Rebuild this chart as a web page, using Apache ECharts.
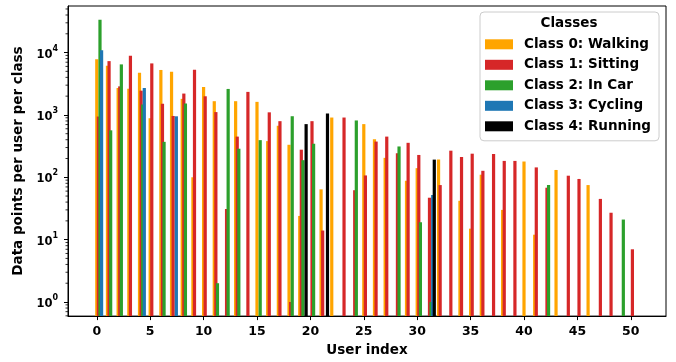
<!DOCTYPE html>
<html>
<head>
<meta charset="utf-8">
<script src="https://cdn.jsdelivr.net/npm/echarts@6/dist/echarts.min.js"></script>
<style>
  html, body { margin: 0; padding: 0; background: #fff; }
  #chart { width: 676px; height: 362px; }
</style>
</head>
<body>
<div id="chart"></div>
<script>
// User indices on the x axis
const users = [
  0, 1, 2, 3, 4, 5, 6, 7, 8, 9,
  10, 11, 12, 13, 14, 15, 16, 17, 18, 19,
  20, 21, 22, 23, 24, 25, 26, 27, 28, 29,
  30, 31, 32, 33, 34, 35, 36, 37, 38, 39,
  40, 41, 42, 43, 44, 45, 46, 47, 48, 49,
  50
];

// Data points per user for each activity class (null = no data)
const walking = [
  7840, 6150, 2700, 2630, 4760, 885, 5260, 4940, 1810, 100,
  2800, 1660, null, 1660, null, 1620, 380, 670, 332, 24,
  null, 64, 908, null, null, 712, 408, 205, null, 88,
  140, null, 192, null, 42, 15, 110, null, 30, null,
  179, 12, null, 131, null, null, 75, null, null, null,
  null
];
const sitting = [
  942, 7290, 2870, 8850, 2450, 6700, 1510, 962, 2200, 5320,
  1990, 1110, 31, 449, 2340, null, 1100, 794, 1, 277,
  794, 14, null, 908, 62, 107, 374, 449, 242, 357,
  228, 47, 75, 267, 212, 239, 127, 237, 183, 183,
  null, 144, 68, null, 106, 94, null, 45, 27, null,
  7
];
const inCar = [
  33600, 566, 6460, null, 1470, null, 370, null, 1530, null,
  null, 2, 2610, 287, null, 394, null, null, 953, 188,
  344, null, null, null, 815, null, null, null, 312, null,
  19, 1, null, null, null, null, null, null, null, null,
  null, null, 75, null, null, null, null, null, null, 21,
  null
];
const cycling = [
  10870, null, null, null, 2700, null, null, 950, null, null,
  null, null, null, null, null, null, null, null, null, null,
  null, null, null, null, null, null, null, null, null, null,
  null, 52, null, null, null, null, null, null, null, null,
  null, null, null, null, null, null, null, null, null, null,
  null
];
const running = [
  null, null, null, null, null, null, null, null, null, null,
  null, null, null, null, null, null, null, null, null, 712,
  null, 1050, null, null, null, null, null, null, null, null,
  null, 192, null, null, null, null, null, null, null, null,
  null, null, null, null, null, null, null, null, null, null,
  null
];

const classNames = [
  'Class 0: Walking',
  'Class 1: Sitting',
  'Class 2: In Car',
  'Class 3: Cycling',
  'Class 4: Running'
];
const classCounts = [walking, sitting, inCar, cycling, running];
const classColors = ['#ffa500', '#d62728', '#2ca02c', '#1f77b4', '#000000'];

// Axis ticks
const xTicks = [0, 5, 10, 15, 20, 25, 30, 35, 40, 45, 50];
const yMinorTicks = [
  0.6, 0.7, 0.8, 0.9,
  2, 3, 4, 5, 6, 7, 8, 9,
  20, 30, 40, 50, 60, 70, 80, 90,
  200, 300, 400, 500, 600, 700, 800, 900,
  2000, 3000, 4000, 5000, 6000, 7000, 8000, 9000,
  20000, 30000, 40000, 50000
];

const X_MIN = -2.695, X_MAX = 53.295;
const Y_MIN = 0.594, Y_MAX = 55800;
const BAR_WIDTH = 0.3;   // in user-index units
const CLASS_STEP = 0.15; // shift of each class bar from the user index

const FONT = 'DejaVu Sans';

// Bars grow from the bottom of the plot (log axis has no zero)
function renderBar(params, api) {
  const x = api.value(0);
  const v = api.value(1);
  const topLeft = api.coord([x - BAR_WIDTH / 2, v]);
  const topRight = api.coord([x + BAR_WIDTH / 2, v]);
  const cs = params.coordSys;
  const base = cs.y + cs.height;
  return {
    type: 'rect',
    shape: { x: topLeft[0], y: topLeft[1], width: topRight[0] - topLeft[0], height: base - topLeft[1] },
    style: { fill: api.visual('color') }
  };
}

// Short outward ticks for the log minor divisions
function renderMinorTick(params, api) {
  const p = api.coord([X_MIN, api.value(1)]);
  const cs = params.coordSys;
  return {
    type: 'line',
    shape: { x1: cs.x - 2.5, y1: p[1], x2: cs.x, y2: p[1] },
    style: { stroke: '#000', lineWidth: 0.8 }
  };
}

const barSeries = classNames.map((name, k) => ({
  type: 'custom',
  name: name,
  itemStyle: { color: classColors[k] },
  renderItem: renderBar,
  encode: { x: 0, y: 1 },
  clip: true,
  z: 2 + k,
  data: users
    .map((u, i) => (classCounts[k][i] == null ? null : [u + k * CLASS_STEP, classCounts[k][i]]))
    .filter(d => d !== null)
}));

const minorTickSeries = {
  type: 'custom',
  name: 'minor-ticks',
  silent: true,
  clip: false,
  renderItem: renderMinorTick,
  encode: { x: 0, y: 1 },
  data: yMinorTicks.map(v => [X_MIN, v])
};

const chart = echarts.init(document.getElementById('chart'), null, { renderer: 'canvas' });

chart.setOption({
  animation: false,
  backgroundColor: '#fff',
  textStyle: { fontFamily: FONT },
  grid: {
    left: 68, right: 10, top: 6, bottom: 41,
    show: true, borderColor: '#000', borderWidth: 1, backgroundColor: 'transparent'
  },
  title: {
    text: 'Classes',
    left: 569, top: 16.5, padding: 0,
    textAlign: 'center',
    textStyle: { fontFamily: FONT, fontSize: 13.5, fontWeight: 'bold', color: '#000' }
  },
  legend: {
    data: classNames,
    orient: 'vertical',
    left: 480, top: 12,
    padding: [25.3, 8, 7.5, 5],
    itemWidth: 28, itemHeight: 10, itemGap: 6.5,
    icon: 'rect',
    backgroundColor: 'rgba(255,255,255,0.85)',
    borderColor: '#cccccc', borderWidth: 1, borderRadius: 4,
    textStyle: { fontFamily: FONT, fontSize: 13.5, fontWeight: 'bold', color: '#000', padding: [0, 0, 0, 6] },
    selectedMode: false
  },
  xAxis: {
    type: 'value',
    min: X_MIN, max: X_MAX,
    splitLine: { show: false },
    axisLine: { onZero: false, lineStyle: { color: '#000', width: 1 } },
    axisTick: { customValues: xTicks, length: 4, lineStyle: { color: '#000', width: 1 } },
    axisLabel: { customValues: xTicks, fontFamily: FONT, fontSize: 12.5, fontWeight: 'bold', color: '#000', margin: 9 },
    name: 'User index',
    nameLocation: 'middle',
    nameGap: 24,
    nameTextStyle: { fontFamily: FONT, fontSize: 13.5, fontWeight: 'bold', color: '#000' }
  },
  yAxis: {
    type: 'log',
    logBase: 10,
    min: Y_MIN, max: Y_MAX,
    splitLine: { show: false },
    axisLine: { show: true, onZero: false, lineStyle: { color: '#000', width: 1 } },
    axisTick: { show: true, length: 4, lineStyle: { color: '#000', width: 1 } },
    axisLabel: {
      fontFamily: FONT, color: '#000', margin: 10,
      showMinLabel: false, showMaxLabel: false,
      formatter: function (v) {
        const e = Math.log10(v);
        const r = Math.round(e);
        if (Math.abs(e - r) > 1e-6) return '';
        return '{b|10}{s|' + r + '}';
      },
      rich: {
        b: { fontFamily: FONT, fontSize: 11.5, fontWeight: 'bold', color: '#000', padding: [4, 0, 0, 0] },
        s: { fontFamily: FONT, fontSize: 8, fontWeight: 'bold', color: '#000', verticalAlign: 'top' }
      }
    },
    name: 'Data points per user per class',
    nameLocation: 'middle',
    nameGap: 38,
    nameTextStyle: { fontFamily: FONT, fontSize: 13.5, fontWeight: 'bold', color: '#000' }
  },
  series: barSeries.concat([minorTickSeries])
});
</script>
</body>
</html>
